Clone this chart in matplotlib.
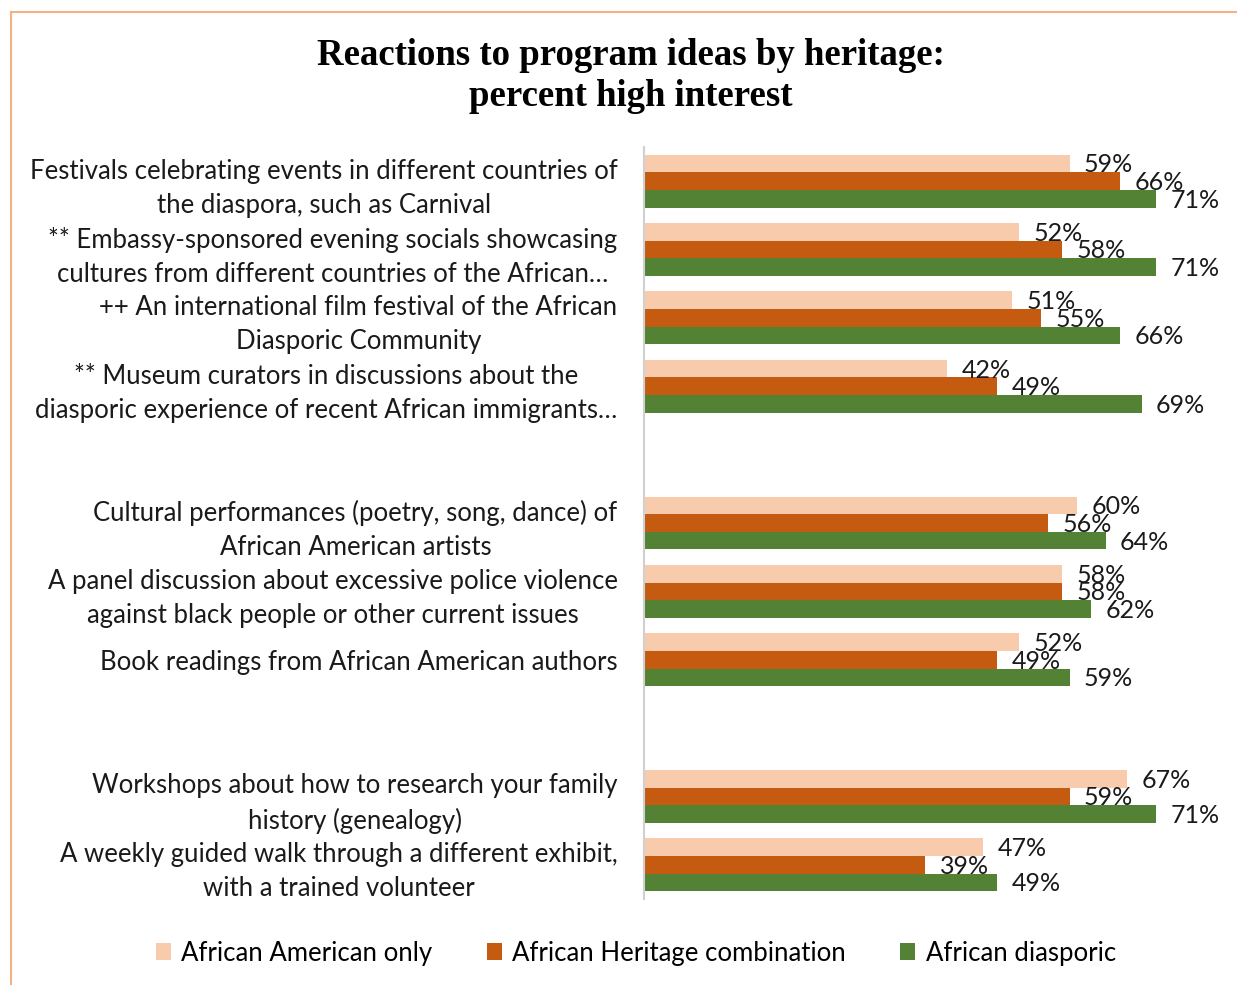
import numpy as np
import matplotlib.pyplot as plt
from matplotlib.lines import Line2D
from matplotlib.patches import Patch

# -------------------------------------------------------------------------
# DATA
# -------------------------------------------------------------------------
categories = [
    "Festivals celebrating events in different countries of\nthe diaspora, such as Carnival",
    "** Embassy-sponsored evening socials showcasing\ncultures from different countries of the African\u2026",
    "++ An international film festival of the African\nDiasporic Community",
    "** Museum curators in discussions about the\ndiasporic experience of recent African immigrants\u2026",
    "",
    "Cultural performances (poetry, song, dance) of\nAfrican American artists",
    "A panel discussion about excessive police violence\nagainst black people or other current issues",
    "Book readings from African American authors",
    "",
    "Workshops about how to research your family\nhistory (genealogy)",
    "A weekly guided walk through a different exhibit,\nwith a trained volunteer",
]

series_names = ["African American only", "African Heritage combination", "African diasporic"]
african_american = [59, 52, 51, 42, None, 60, 58, 52, None, 67, 47]
heritage_combo = [66, 58, 55, 49, None, 56, 58, 49, None, 59, 39]
diasporic = [71, 71, 66, 69, None, 64, 62, 59, None, 71, 49]

colors = ["#F8CBAD", "#C55A11", "#548235"]

# -------------------------------------------------------------------------
# PLOT
# -------------------------------------------------------------------------
fig = plt.figure(figsize=(12.37, 9.85), dpi=100)
ax = fig.add_axes([644 / 1237, 1 - 899 / 985, (1221 - 644) / 1237, (899 - 147) / 985])

label_font = "Lato"
bar_h = 0.258
y = np.arange(len(categories))

for k, (vals, c) in enumerate(zip([african_american, heritage_combo, diasporic], colors)):
    offset = (k - 1) * bar_h
    for i, v in enumerate(vals):
        if v is None:
            continue
        ax.barh(y[i] + offset, v, height=bar_h, color=c, edgecolor="none")
        ax.text(v + 2.0, y[i] + offset + 0.02, f"{v}%", ha="left", va="center",
                fontsize=18, family=label_font, color="#1a1a1a")

ax.set_xlim(0, 80)
ax.set_ylim(len(categories) - 0.5, -0.5)
ax.set_yticks(y)
ax.set_yticklabels(categories, fontsize=18.5, family=label_font, multialignment="center",
                   color="#1a1a1a", linespacing=1.45)
ax.tick_params(axis="y", length=0, pad=19)
ax.set_xticks([])
for s in ["top", "right", "bottom"]:
    ax.spines[s].set_visible(False)
ax.spines["left"].set_color("#d0d0d0")
ax.spines["left"].set_linewidth(1.5)

fig.text(0.51, 1 - 76 / 985, "Reactions to program ideas by heritage:\npercent high interest",
         ha="center", va="center", fontsize=26.5, fontweight="bold",
         family="Liberation Serif", linespacing=1.2)

handles = [Patch(facecolor=c, edgecolor="none") for c in colors]
fig.legend(handles, series_names, loc="center", bbox_to_anchor=(0.514, 1 - 953 / 985),
           ncol=3, frameon=False, prop={"family": label_font, "size": 18.5},
           handlelength=0.6, handleheight=0.6, handletextpad=0.4, columnspacing=2.1)

# orange frame
fig.add_artist(Line2D([11 / 1237, 1], [1 - 12 / 985] * 2, color="#F4B183", lw=1.5))
fig.add_artist(Line2D([11 / 1237] * 2, [0, 1 - 12 / 985], color="#F4B183", lw=1.5))

fig.savefig("out.png", dpi=100)
